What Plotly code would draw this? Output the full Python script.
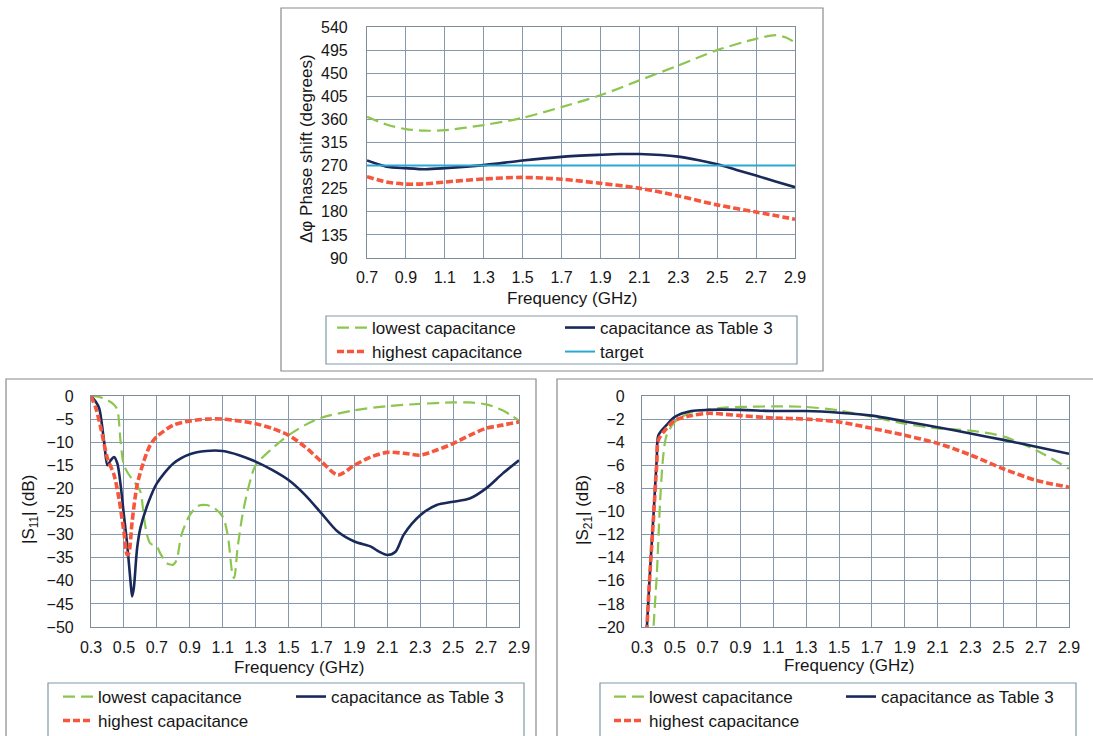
import plotly.graph_objects as go

W, H = 1093, 736
FONT = "Liberation Sans, Arial, sans-serif"
TXT = "#161616"

# ---------------- data: phase shift (top) ----------------
ph_freq_low = [0.7, 0.8, 0.9, 1.0, 1.1, 1.3, 1.5, 1.7, 1.9, 2.1, 2.3, 2.5, 2.7, 2.8, 2.85, 2.9]
ph_low = [365, 350, 341, 338, 339, 349, 363, 384, 407, 436, 465, 495, 517, 524, 520, 510]
ph_freq_tab = [0.7, 0.8, 0.9, 1.0, 1.1, 1.3, 1.5, 1.7, 1.9, 2.0, 2.1, 2.3, 2.4, 2.5, 2.6, 2.7, 2.8, 2.9]
ph_tab = [280, 268, 265, 263, 265, 271, 280, 287, 291, 292.5, 292.5, 287.5, 281, 272.5, 261.5, 250.5, 239, 228]
ph_freq_high = [0.7, 0.8, 0.9, 1.0, 1.1, 1.3, 1.5, 1.7, 1.9, 2.1, 2.3, 2.5, 2.7, 2.9]
ph_high = [248.5, 238, 234, 234.5, 238, 244, 247, 243.5, 235.5, 226, 211, 193.5, 179.5, 165.5]
ph_freq_target = [0.7, 2.9]
ph_target = [270, 270]

# ---------------- data: |S11| (bottom left) ----------------
s11_freq_low = [0.3, 0.35, 0.4, 0.44, 0.46, 0.48, 0.5, 0.53, 0.56, 0.6, 0.62, 0.64, 0.66, 0.7,
                0.72, 0.76, 0.8, 0.82, 0.85, 0.9, 0.95, 1.0, 1.05, 1.1, 1.13, 1.16, 1.17, 1.19,
                1.22, 1.26, 1.3, 1.4, 1.5, 1.6, 1.7, 1.9, 2.1, 2.3, 2.5, 2.6, 2.7, 2.8, 2.9]
s11_low = [0, -0.2, -0.9, -1.9, -3.0, -10, -15, -17, -18.5, -20.7, -25.8, -30, -31.9, -32.6,
           -34, -36.2, -36.5, -35.5, -30, -25.8, -23.8, -23.6, -24.3, -26.1, -30, -38.7, -39.4, -33,
           -25.8, -19.3, -15, -11.4, -8.5, -6.3, -4.7, -3.1, -2.2, -1.7, -1.4, -1.4, -1.8, -3.1, -5.3]
s11_freq_tab = [0.3, 0.33, 0.35, 0.38, 0.4, 0.42, 0.44, 0.46, 0.48, 0.5, 0.52, 0.54, 0.55, 0.56,
                0.58, 0.6, 0.65, 0.7, 0.8, 0.9, 1.0, 1.1, 1.2, 1.3, 1.4, 1.5, 1.6, 1.7, 1.8, 1.9,
                2.0, 2.05, 2.1, 2.15, 2.2, 2.3, 2.4, 2.5, 2.6, 2.7, 2.8, 2.9]
s11_tab = [0, -1.3, -2.7, -10, -15, -13.9, -13.2, -14.6, -19.3, -25.8, -32.2, -40.1, -43.4, -41.6,
           -33, -28.6, -22.9, -18.9, -14.6, -12.6, -11.9, -11.9, -12.8, -14.2, -16, -18.2, -21.4, -25.4,
           -29.4, -31.5, -32.6, -33.7, -34.4, -33.7, -30, -25.8, -23.6, -22.9, -22.2, -20, -16.8, -13.9]
s11_freq_high = [0.3, 0.33, 0.36, 0.4, 0.44, 0.47, 0.5, 0.52, 0.53, 0.55, 0.58, 0.62, 0.66, 0.7,
                 0.8, 0.9, 1.0, 1.1, 1.2, 1.3, 1.4, 1.5, 1.6, 1.7, 1.8, 1.9, 2.0, 2.1, 2.2, 2.3,
                 2.4, 2.5, 2.6, 2.7, 2.8, 2.9]
s11_high = [0, -2.7, -7, -13.5, -17.1, -22.2, -29.4, -34.4, -34, -27.2, -19.3, -14.2, -10.6, -8.8,
            -6.3, -5.4, -5, -5, -5.4, -6, -7, -8.5, -11, -14.2, -17.1, -15, -13.2, -12.2, -12.4, -12.8,
            -11.7, -10.3, -8.5, -7, -6.3, -5.6]

# ---------------- data: |S21| (bottom right) ----------------
s21_freq_low = [0.36, 0.37, 0.39, 0.41, 0.43, 0.45, 0.5, 0.6, 0.7, 0.8, 0.9, 1.1, 1.3, 1.5, 1.7,
                1.9, 2.1, 2.3, 2.5, 2.7, 2.9]
s21_low = [-23, -20, -15.5, -9.2, -5.1, -3.4, -2.25, -1.4, -1.2, -1.0, -0.95, -0.9, -0.95, -1.25,
           -1.8, -2.4, -2.8, -3.0, -3.5, -4.7, -6.3]
s21_freq_tab = [0.32, 0.33, 0.35, 0.37, 0.39, 0.4, 0.45, 0.5, 0.6, 0.7, 0.9, 1.1, 1.3, 1.5, 1.7,
                1.9, 2.1, 2.3, 2.5, 2.7, 2.9]
s21_tab = [-23, -20, -14.9, -10.3, -5.4, -3.4, -2.5, -1.8, -1.3, -1.2, -1.2, -1.3, -1.3, -1.45,
           -1.7, -2.2, -2.7, -3.25, -3.8, -4.4, -5.0]
s21_freq_high = [0.32, 0.33, 0.35, 0.37, 0.39, 0.4, 0.45, 0.5, 0.6, 0.7, 0.9, 1.1, 1.3, 1.5, 1.7,
                 1.9, 2.1, 2.3, 2.5, 2.7, 2.9]
s21_high = [-23, -20, -15, -10.5, -5.8, -3.8, -2.8, -2.1, -1.7, -1.5, -1.7, -1.9, -2.0, -2.25,
            -2.8, -3.4, -4.1, -5.1, -6.3, -7.3, -7.9]

# ---------------- tick labels ----------------
ph_xticks = [0.7, 0.9, 1.1, 1.3, 1.5, 1.7, 1.9, 2.1, 2.3, 2.5, 2.7, 2.9]
ph_yticks = [90, 135, 180, 225, 270, 315, 360, 405, 450, 495, 540]
s_xticks = [0.3, 0.5, 0.7, 0.9, 1.1, 1.3, 1.5, 1.7, 1.9, 2.1, 2.3, 2.5, 2.7, 2.9]
s11_yticks = [0, -5, -10, -15, -20, -25, -30, -35, -40, -45, -50]
s21_yticks = [0, -2, -4, -6, -8, -10, -12, -14, -16, -18, -20]

names = ["lowest capacitance", "capacitance as Table 3", "highest capacitance", "target"]

GREEN = "#8cc64f"
NAVY = "#18295a"
RED = "#f5563c"
CYAN = "#2ba7d4"

STY = {
    "low": dict(color=GREEN, width=2.2, dash="12px,6px"),
    "tab": dict(color=NAVY, width=2.6),
    "high": dict(color=RED, width=3.6, dash="7px,3px"),
    "target": dict(color=CYAN, width=2),
}
FS = 17      # legend / axis titles
TFS = 16     # tick labels


def px(x):
    return x / W


def py(y):
    return 1 - y / H


fig = go.Figure()


def add(xs, ys, key, name, xa, ya, legend):
    fig.add_trace(go.Scatter(
        x=xs, y=ys, mode="lines", name=name, xaxis=xa, yaxis=ya, legend=legend,
        line=dict(shape="spline", smoothing=0.8, **STY[key]),
    ))


# top panel: row1 legend (low, tab), row2 legend (high, target)
add(ph_freq_low, ph_low, "low", names[0], "x", "y", "legend")
add(ph_freq_tab, ph_tab, "tab", names[1], "x", "y", "legend")
add(ph_freq_high, ph_high, "high", names[2], "x", "y", "legend2")
add(ph_freq_target, ph_target, "target", names[3], "x", "y", "legend2")

# bottom-left
add(s11_freq_low, s11_low, "low", names[0], "x2", "y2", "legend3")
add(s11_freq_tab, s11_tab, "tab", names[1], "x2", "y2", "legend3")
add(s11_freq_high, s11_high, "high", names[2], "x2", "y2", "legend4")

# bottom-right
add(s21_freq_low, s21_low, "low", names[0], "x3", "y3", "legend5")
add(s21_freq_tab, s21_tab, "tab", names[1], "x3", "y3", "legend5")
add(s21_freq_high, s21_high, "high", names[2], "x3", "y3", "legend6")

GRID = "#8499ab"
AX = dict(showgrid=True, gridcolor=GRID, gridwidth=1.2, showline=True, linecolor="#7d8c99",
          linewidth=1.2, mirror=True, zeroline=False, ticks="", automargin=False,
          tickfont=dict(family=FONT, size=TFS, color=TXT))

fig.update_layout(
    width=W, height=H, margin=dict(l=0, r=0, t=0, b=0, autoexpand=False),
    paper_bgcolor="white", plot_bgcolor="white",
    font=dict(family=FONT, size=FS, color=TXT),
    xaxis=dict(domain=[px(367), px(795)], range=[0.7, 2.9], tickvals=ph_xticks,
               ticktext=[f"{v:.1f}" for v in ph_xticks], ticklabelstandoff=5, anchor="y", **AX),
    yaxis=dict(domain=[py(258), py(27)], range=[90, 540], tickvals=ph_yticks,
               ticklabelstandoff=15, anchor="x", **AX),
    xaxis2=dict(domain=[px(91), px(519)], range=[0.3, 2.9], tickvals=s_xticks,
                ticktext=[f"{v:.1f}" for v in s_xticks], ticklabelstandoff=6, anchor="y2", **AX),
    yaxis2=dict(domain=[py(627), py(396)], range=[-50, 0], tickvals=s11_yticks,
                ticklabelstandoff=13, anchor="x2", **AX),
    xaxis3=dict(domain=[px(642), px(1069)], range=[0.3, 2.9], tickvals=s_xticks,
                ticktext=[f"{v:.1f}" for v in s_xticks], ticklabelstandoff=6, anchor="y3", **AX),
    yaxis3=dict(domain=[py(627), py(396)], range=[-20, 0], tickvals=s21_yticks,
                ticklabelstandoff=13, anchor="x3", **AX),
)

LEG = dict(orientation="h", xanchor="left", yanchor="middle", bgcolor="rgba(0,0,0,0)",
           borderwidth=0, itemwidth=30, entrywidthmode="pixels",
           font=dict(family=FONT, size=FS, color=TXT), traceorder="normal")
fig.update_layout(
    legend=dict(x=px(332), y=py(328), entrywidth=183, **LEG),
    legend2=dict(x=px(332), y=py(352), entrywidth=183, **LEG),
    legend3=dict(x=px(58), y=py(697), entrywidth=188, **LEG),
    legend4=dict(x=px(58), y=py(721), entrywidth=188, **LEG),
    legend5=dict(x=px(609), y=py(697), entrywidth=187, **LEG),
    legend6=dict(x=px(609), y=py(721), entrywidth=187, **LEG),
)

shapes = []


def box(x0, y0, x1, y1, color="#8a8a8a", width=1.2):
    shapes.append(dict(type="rect", xref="paper", yref="paper", x0=px(x0), x1=px(x1),
                       y0=py(y1), y1=py(y0), line=dict(color=color, width=width),
                       fillcolor="rgba(0,0,0,0)", layer="below"))


# panel frames
box(281, 8, 823, 371)
box(6, 379, 536, 738)
box(557, 379, 1095, 738)
# legend frames
box(326, 316, 797, 364, color="#7f9aa8")
box(48, 683, 524, 740, color="#7f9aa8")
box(600, 683, 1076, 740, color="#7f9aa8")
fig.update_layout(shapes=shapes)

ann = [
    dict(text="Δφ Phase shift (degrees)", x=px(306), y=py(149), textangle=-90),
    dict(text="Frequency (GHz)", x=px(572), y=py(298)),
    dict(text="|S<sub>11</sub>| (dB)", x=px(30), y=py(510), textangle=-90),
    dict(text="Frequency (GHz)", x=px(299), y=py(667)),
    dict(text="|S<sub>21</sub>| (dB)", x=px(584), y=py(510), textangle=-90),
    dict(text="Frequency (GHz)", x=px(849), y=py(665)),
]
for a in ann:
    a.update(xref="paper", yref="paper", showarrow=False, xanchor="center", yanchor="middle",
             font=dict(family=FONT, size=FS, color=TXT))
fig.update_layout(annotations=ann)

fig.write_html("out.html", config={"displayModeBar": False},
               post_script="document.body.style.margin='0px';"
                           "document.documentElement.style.overflow='hidden';")
